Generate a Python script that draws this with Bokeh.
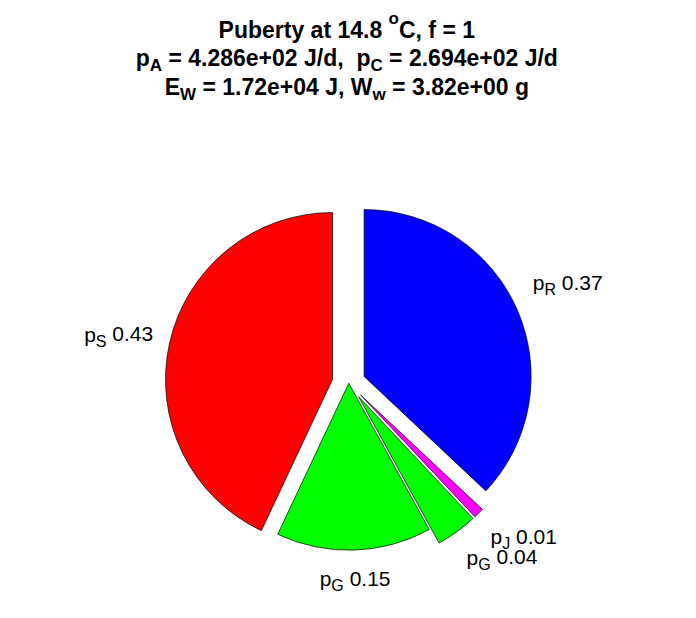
import math
from bokeh.plotting import figure
from bokeh.models import ColumnDataSource, Range1d
from bokeh.core.properties import value
from bokeh.embed import file_html
from bokeh.resources import INLINE

# ---------------- data ----------------
fractions = [0.37, 0.01, 0.04, 0.15, 0.43]
flux_subscripts = ["R", "J", "G", "G", "S"]
slice_colors = ["#0000ff", "#ff00ff", "#00ff00", "#00ff00", "#ff0000"]
exploded = [1, 1, 1, 0, 1]
temperature_C = 14.8
f_food = 1
p_A = 428.6
p_C = 269.4
E_W = 1.72e4
W_w = 3.82

# ---------------- layout ----------------
W, H = 680, 602
PX = 167.0             # pixels per unit radius
CX, CY = 348.3, 382.7  # pie centre in figure pixels
EXPLODE = 0.1
LABEL_R = 1.2
FONT = "Liberation Sans"
TITLE_SIZE = 23
LABEL_SIZE = 21
SUB_RATIO = 0.75

# Arial / Liberation Sans advance widths (1/1000 em)
REG = {' ': 278, '.': 278, ',': 278, 'p': 556, 'R': 722, 'S': 667, 'G': 778, 'J': 500,
       'A': 667, 'C': 722, 'E': 667, 'W': 944, 'w': 722, 'g': 556, 'e': 556, '+': 584,
       '=': 584, '/': 278, 'd': 556, 'o': 556, 'P': 667, 'u': 556, 'b': 556, 'r': 333,
       't': 278, 'y': 500, 'a': 556, 'f': 278}
BOLD = {' ': 278, '.': 278, ',': 278, 'p': 611, 'A': 722, 'C': 722, 'E': 667, 'W': 944,
        'w': 778, 'g': 611, 'e': 556, '+': 584, '=': 584, '/': 278, 'd': 611, 'J': 556,
        'o': 611, 'P': 667, 'u': 611, 'b': 611, 'r': 389, 't': 333, 'y': 556, 'a': 556,
        'f': 333, 'R': 722, 'S': 667, 'G': 778}


def char_w(c, bold):
    table = BOLD if bold else REG
    return table.get(c, 556)


segs = dict(x=[], y=[], text=[], size=[], style=[], xo=[])


def add_rich(parts, x, y, align, base, bold):
    """parts: list of (string, kind) with kind in 'n', 'sub', 'sup'.
    x, y: anchor in data units (y = main baseline)."""
    sub = round(base * SUB_RATIO)
    sizes = [base if k == 'n' else sub for _, k in parts]
    widths = [sum(char_w(c, bold) for c in s) * sz / 1000.0 for (s, _), sz in zip(parts, sizes)]
    total = sum(widths)
    off = {'left': 0.0, 'center': -total / 2.0, 'right': -total}[align]
    for (s, k), sz in zip(parts, sizes):
        dy = 0.0
        if k == 'sub':
            dy = -0.33 * base / PX
        elif k == 'sup':
            dy = 0.5 * base / PX
        cur = off
        run, run_start = "", cur
        for c in s:
            if c == ' ':
                if run:
                    segs['x'].append(x); segs['y'].append(y + dy); segs['text'].append(run)
                    segs['size'].append(f"{sz}px"); segs['style'].append('bold' if bold else 'normal')
                    segs['xo'].append(run_start)
                    run = ""
            else:
                if not run:
                    run_start = cur
                run += c
            cur += char_w(c, bold) * sz / 1000.0
        if run:
            segs['x'].append(x); segs['y'].append(y + dy); segs['text'].append(run)
            segs['size'].append(f"{sz}px"); segs['style'].append('bold' if bold else 'normal')
            segs['xo'].append(run_start)
        off = cur


def ydata(py):
    return (CY - py) / PX


p = figure(width=W, height=H, output_backend="svg", toolbar_location=None,
           x_axis_location=None, y_axis_location=None, min_border=0,
           x_range=Range1d(-CX / PX, (W - CX) / PX),
           y_range=Range1d(-(H - CY) / PX, CY / PX))
p.grid.visible = False
p.outline_line_color = None
p.background_fill_color = "white"
p.border_fill_color = "white"

# ---------------- wedges ----------------
wx, wy, ws, we, wc, mids = [], [], [], [], [], []
cum = 0.0
for frac, col, ex in zip(fractions, slice_colors, exploded):
    a_start = math.pi / 2 - (cum + frac) * 2 * math.pi
    a_end = math.pi / 2 - cum * 2 * math.pi
    mid = (a_start + a_end) / 2
    wx.append(EXPLODE * ex * math.cos(mid))
    wy.append(EXPLODE * ex * math.sin(mid))
    ws.append(a_start); we.append(a_end); wc.append(col); mids.append(mid)
    cum += frac

wsrc = ColumnDataSource(dict(x=wx, y=wy, start=ws, end=we, color=wc))
p.wedge(x='x', y='y', radius=1.0, start_angle='start', end_angle='end',
        fill_color='color', line_color='black', line_width=0.7, source=wsrc)

# ---------------- slice labels ----------------
for frac, sname, mid in zip(fractions, flux_subscripts, mids):
    c, s = math.cos(mid), math.sin(mid)
    ax, ay = LABEL_R * c, LABEL_R * s
    align = 'left' if c > 0.2 else ('right' if c < -0.2 else 'center')
    if s > 0.3:
        base_off = -21
    elif s < -0.3 and abs(c) > 0.2:
        base_off = 12
    else:
        base_off = -5
    add_rich([("p", 'n'), (sname, 'sub'), (f" {frac:.2f}", 'n')],
             ax, ay - base_off / PX, align, LABEL_SIZE, False)

# ---------------- title ----------------
title_lines = [
    [(f"Puberty at {temperature_C:.1f} ", 'n'), ("o", 'sup'), (f"C, f = {f_food}", 'n')],
    [("p", 'n'), ("A", 'sub'), (f" = {p_A:.3e} J/d,  p", 'n'), ("C", 'sub'), (f" = {p_C:.3e} J/d", 'n')],
    [("E", 'n'), ("W", 'sub'), (f" = {E_W:.2e} J, W", 'n'), ("w", 'sub'), (f" = {W_w:.2e} g", 'n')],
]
for parts, base_px in zip(title_lines, [29, 57, 86]):
    add_rich(parts, -2.0 / PX, ydata(base_px), 'center', TITLE_SIZE, True)

tsrc = ColumnDataSource(segs)
p.text(x='x', y='y', text='text', x_offset='xo', text_font_size='size',
       text_font_style='style', text_font=value(FONT), text_color='black',
       text_align='left', text_baseline='alphabetic', source=tsrc)

open("out.html", "w").write(file_html(p, INLINE))
